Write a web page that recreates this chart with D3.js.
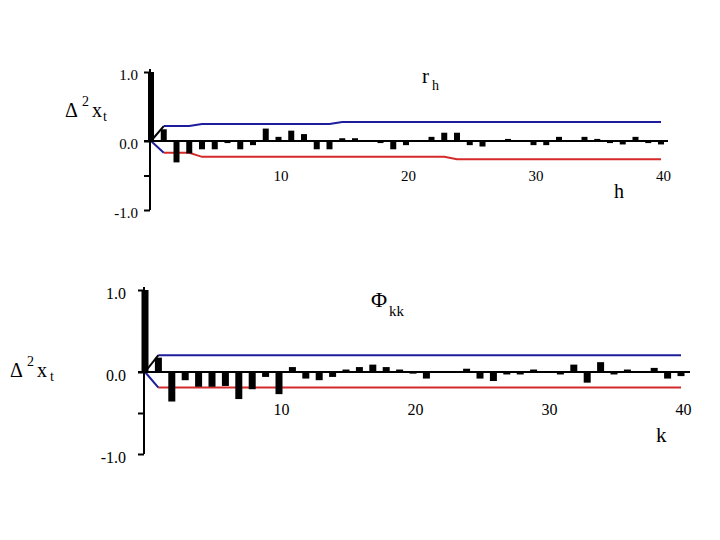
<!DOCTYPE html>
<html><head><meta charset="utf-8">
<script src="https://cdn.jsdelivr.net/npm/d3@7/dist/d3.min.js"></script>
<style>
body{margin:0;background:#fff;}
svg text{font-family:"Liberation Serif","Times New Roman",Times,serif !important;fill:#000;}
</style>
</head><body>
<svg id="c" width="720" height="540"></svg>
<script>
// ---- data ----
const lags = [0,1,2,3,4,5,6,7,8,9,10,11,12,13,14,15,16,17,18,19,20,21,22,23,24,25,26,27,28,29,30,31,32,33,34,35,36,37,38,39,40];
const xTickLabels = [10, 20, 30, 40];
const yTickValues = [-1, -0.5, 0, 1];
const yTickLabels = ["-1.0", "", "0.0", "1.0"];

// autocorrelation r_h of Δ²x_t
const rh = [1.0,0.17,-0.31,-0.18,-0.12,-0.12,-0.03,-0.12,-0.06,0.18,
            0.06,0.15,0.10,-0.12,-0.12,0.04,0.04,0.0,-0.03,-0.12,
            -0.06,0.0,0.06,0.12,0.12,-0.06,-0.08,0.0,0.03,0.0,
            -0.06,-0.06,0.06,0.0,0.06,0.03,-0.03,-0.05,0.06,-0.03,-0.05];
const rhUpper = [0,0.217,0.217,0.217,0.246,0.246,0.246,0.246,0.246,0.246,
                 0.246,0.246,0.246,0.246,0.246,0.275,0.275,0.275,0.275,0.275,
                 0.275,0.275,0.275,0.275,0.275,0.275,0.275,0.275,0.275,0.275,
                 0.275,0.275,0.275,0.275,0.275,0.275,0.275,0.275,0.275,0.275,0.275];
const rhLower = [0,-0.17,-0.17,-0.17,-0.23,-0.23,-0.23,-0.23,-0.23,-0.23,
                 -0.23,-0.23,-0.23,-0.23,-0.23,-0.23,-0.23,-0.23,-0.23,-0.23,
                 -0.23,-0.23,-0.23,-0.23,-0.265,-0.265,-0.265,-0.265,-0.265,-0.265,
                 -0.265,-0.265,-0.265,-0.265,-0.265,-0.265,-0.265,-0.265,-0.265,-0.265,-0.265];

// partial autocorrelation Φkk of Δ²x_t
const phi = [1.0,0.175,-0.36,-0.10,-0.18,-0.18,-0.17,-0.33,-0.21,-0.06,
             -0.27,0.06,-0.08,-0.10,-0.06,0.03,0.06,0.09,0.06,0.03,
             -0.02,-0.08,0.0,0.0,0.04,-0.08,-0.11,-0.03,-0.03,0.03,
             0.0,-0.03,0.09,-0.13,0.12,-0.03,0.03,0.0,0.05,-0.08,-0.05];
const phiUpper = [0,0.205,0.205,0.205,0.205,0.205,0.205,0.205,0.205,0.205,
                  0.205,0.205,0.205,0.205,0.205,0.205,0.205,0.205,0.205,0.205,
                  0.205,0.205,0.205,0.205,0.205,0.205,0.205,0.205,0.205,0.205,
                  0.205,0.205,0.205,0.205,0.205,0.205,0.205,0.205,0.205,0.205,0.205];
const phiLower = [0,-0.19,-0.19,-0.19,-0.19,-0.19,-0.19,-0.19,-0.19,-0.19,
                  -0.19,-0.19,-0.19,-0.19,-0.19,-0.19,-0.19,-0.19,-0.19,-0.19,
                  -0.19,-0.19,-0.19,-0.19,-0.19,-0.19,-0.19,-0.19,-0.19,-0.19,
                  -0.19,-0.19,-0.19,-0.19,-0.19,-0.19,-0.19,-0.19,-0.19,-0.19,-0.19];

const svg = d3.select("#c");
const BLUE = "#1c1c9c", RED = "#d42a2a";

function panel(cfg){
  const x = d3.scaleLinear().domain([0,40]).range([cfg.x0, cfg.x1]);
  const y = d3.scaleLinear().domain([-1,1]).range([cfg.yb, cfg.yt]);
  const g = svg.append("g");

  // y axis
  const ya = d3.axisLeft(y).tickValues(yTickValues).tickSize(6).tickPadding(cfg.pad)
     .tickFormat((d,i)=>yTickLabels[i]);
  const yg = g.append("g").attr("transform",`translate(${cfg.ax},0)`).call(ya);
  yg.attr("font-family",null);
  yg.select(".domain").attr("d",`M0,${cfg.axTop}V${y(-1)}`).attr("stroke","#000").attr("stroke-width",2);
  yg.selectAll(".tick line").attr("stroke","#000").attr("stroke-width",2);
  yg.selectAll(".tick text").attr("font-size",cfg.fs).attr("dy","0.5em");

  // x tick labels
  const xa = d3.axisBottom(x).tickValues(xTickLabels).tickSize(0).tickPadding(0).tickFormat(d3.format("d"));
  const xg = g.append("g").attr("transform",`translate(${cfg.xLabShift},${cfg.xlab})`).call(xa);
  xg.attr("font-family",null);
  xg.select(".domain").remove();
  xg.selectAll(".tick text").attr("font-size",cfg.fs);

  // bands
  const line = d3.line().x((d,i)=>x(lags[i])).y(d=>y(d));
  const line1 = d3.line().x((d,i)=>x(lags[i+1])).y(d=>y(d));
  g.append("path").datum(cfg.up.slice(1)).attr("d", line1)
    .attr("fill","none").attr("stroke",BLUE).attr("stroke-width",2);
  g.append("path").datum(cfg.lo.slice(1)).attr("d", line1)
    .attr("fill","none").attr("stroke",RED).attr("stroke-width",2);
  g.append("path").datum(cfg.up.slice(0,2)).attr("d", line)
    .attr("fill","none").attr("stroke","#000").attr("stroke-width",2);
  g.append("path").datum(cfg.lo.slice(0,2)).attr("d", line)
    .attr("fill","none").attr("stroke",BLUE).attr("stroke-width",2);

  // bars
  g.selectAll("rect.bar").data(cfg.vals).join("rect").attr("class","bar")
    .attr("x",(d,i)=>x(lags[i]) - cfg.bw/2)
    .attr("width",cfg.bw)
    .attr("y",d=>Math.min(y(d),y(0)))
    .attr("height",d=>Math.abs(y(d)-y(0)))
    .attr("fill","#000");

  // zero line
  g.append("line").attr("x1",cfg.ax-6).attr("x2",cfg.zx2)
    .attr("y1",y(0)).attr("y2",y(0)).attr("stroke","#000").attr("stroke-width",2);
  return g;
}

panel({x0:151,x1:661,yt:72,yb:210,ax:150,axTop:69,pad:6,fs:15,xlab:170,xLabShift:2,
       vals:rh,up:rhUpper,lo:rhLower,bw:6,zx2:668});
panel({x0:145,x1:681,yt:290,yb:454,ax:144,axTop:287,pad:12,fs:16,xlab:404,xLabShift:2,
       vals:phi,up:phiUpper,lo:phiLower,bw:7,zx2:690});

// labels
function t(x,y,s,fs){ svg.append("text").attr("x",x).attr("y",y).attr("font-size",fs).text(s); }
t(65,117,"Δ",20); t(82,106,"2",14); t(92,117,"x",20); t(103,121,"t",14);
t(10,377,"Δ",20); t(27,366,"2",14); t(37,377,"x",20); t(50,381,"t",14);
t(422,83,"r",21); t(432,90,"h",14);
t(614,198,"h",20);
t(371,307,"Φ",22); t(389,316,"kk",15);
t(656,442,"k",21);
</script>
</body></html>
